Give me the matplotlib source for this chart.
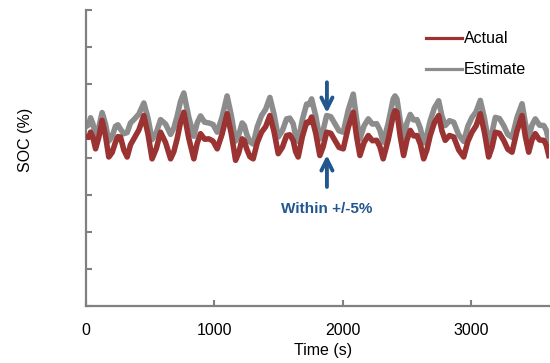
import matplotlib.pyplot as plt

plt.rcParams['font.family'] = ['Liberation Sans', 'DejaVu Sans']

## Data ##
time_s = [10, 23, 37, 56, 76, 101, 127, 153, 179, 205, 231, 250, 270, 296, 322,
          348, 374, 413, 452, 484, 516, 549, 582, 621, 660, 685, 711, 737, 763,
          802, 841, 867, 893, 925, 958, 990, 1023, 1061, 1100, 1133, 1166, 1191,
          1217, 1234, 1252, 1277, 1303, 1335, 1368, 1400, 1433, 1465, 1498, 1530,
          1563, 1588, 1614, 1633, 1653, 1686, 1719, 1738, 1758, 1790, 1822, 1848,
          1875, 1907, 1939, 1971, 2004, 2043, 2082, 2108, 2134, 2166, 2199, 2231,
          2264, 2289, 2315, 2354, 2393, 2407, 2422, 2448, 2474, 2500, 2526, 2552,
          2578, 2604, 2630, 2655, 2681, 2714, 2747, 2772, 2798, 2831, 2864, 2903,
          2942, 2974, 3006, 3038, 3071, 3103, 3136, 3162, 3188, 3220, 3253, 3285,
          3318, 3357, 3396, 3422, 3448, 3473, 3499, 3532, 3565, 3584, 3604]

soc_actual = [45.7, 45.6, 47.0, 45.6, 42.5, 45.6, 50.2, 46.1, 40.3, 41.5, 44.3,
              45.8, 45.7, 42.2, 40.3, 43.6, 45.2, 47.6, 51.5, 46.5, 39.8, 42.6,
              47.0, 44.2, 39.8, 41.7, 45.2, 49.6, 52.4, 45.3, 39.8, 44.0, 46.6,
              45.1, 45.2, 44.6, 42.5, 46.5, 52.0, 46.5, 39.4, 41.5, 45.2, 44.7,
              42.5, 40.4, 39.8, 44.2, 47.0, 48.5, 51.5, 47.2, 41.2, 42.9, 46.1,
              46.3, 44.8, 41.8, 40.3, 45.8, 49.7, 49.6, 51.1, 46.7, 40.7, 43.1,
              47.0, 46.7, 44.8, 42.9, 42.5, 48.3, 52.4, 45.8, 40.7, 44.2, 46.1,
              44.7, 44.8, 43.1, 39.8, 44.9, 51.5, 52.8, 52.4, 45.8, 40.7, 44.9,
              47.5, 46.0, 46.1, 43.8, 39.8, 42.2, 46.1, 49.6, 51.5, 47.4, 44.8,
              46.1, 45.7, 42.2, 40.3, 44.5, 47.0, 48.7, 52.0, 47.0, 40.3, 42.9,
              47.0, 46.7, 44.8, 42.4, 41.6, 47.4, 51.5, 45.8, 41.6, 44.9, 46.6,
              44.9, 44.8, 43.6, 40.7]

soc_estimate = [48.7, 49.0, 50.9, 49.2, 45.9, 48.3, 52.3, 49.3, 44.6, 45.8, 48.6,
                49.0, 47.8, 46.6, 46.9, 49.5, 50.4, 51.9, 54.9, 50.8, 45.0, 46.9,
                50.4, 49.2, 46.4, 48.1, 51.3, 55.3, 57.6, 51.0, 45.9, 49.5, 51.4,
                49.7, 49.5, 49.1, 47.0, 51.1, 56.8, 51.5, 44.6, 46.3, 49.5, 48.8,
                46.5, 44.4, 43.8, 48.5, 51.5, 53.2, 56.4, 51.9, 45.7, 47.4, 50.6,
                50.8, 49.3, 46.1, 44.5, 50.4, 54.6, 54.5, 56.0, 51.4, 45.2, 47.6,
                51.5, 51.2, 49.3, 47.4, 47.0, 53.0, 57.3, 50.5, 45.2, 48.7, 50.6,
                49.2, 49.3, 47.6, 44.3, 49.4, 56.0, 56.8, 56.0, 50.0, 45.6, 49.5,
                51.8, 50.3, 50.4, 48.1, 44.1, 46.3, 50.1, 53.6, 55.5, 51.4, 48.8,
                50.1, 49.7, 46.3, 44.5, 48.6, 51.0, 52.5, 55.6, 50.8, 44.3, 46.9,
                51.0, 50.7, 48.8, 46.4, 45.6, 51.0, 54.7, 49.4, 45.6, 48.9, 50.6,
                48.9, 48.8, 47.6, 44.7]

legend_labels = ["Actual", "Estimate"]
xticks = [0, 1000, 2000, 3000]
yticks = [0, 10, 20, 30, 40, 50, 60, 70, 80]

red = '#9b3333'
grey = '#8c8c8c'
blue = '#22568f'
axis_grey = '#808080'

fig = plt.figure(figsize=(5.5, 3.63), dpi=100)
ax = fig.add_axes([0.156, 0.157, 0.842, 0.815])

ax.plot(time_s, soc_estimate, color=grey, lw=4, label=legend_labels[1], zorder=2)
ax.plot(time_s, soc_actual, color=red, lw=4, label=legend_labels[0], zorder=3)

ax.set_xlim(0, 3605)
ax.set_ylim(0, 80)
ax.set_xticks(xticks)
ax.set_yticks(yticks)
ax.set_yticklabels([])
ax.tick_params(axis='both', direction='in', length=4, width=1.5, color=axis_grey,
               labelsize=11.5, pad=12)

for side in ['top', 'right']:
    ax.spines[side].set_visible(False)
for side in ['left', 'bottom']:
    ax.spines[side].set_color(axis_grey)
    ax.spines[side].set_linewidth(1.6)

ax.set_xlabel("Time (s)", fontsize=11.5)
ax.xaxis.set_label_coords(0.512, -0.125)
ax.set_ylabel("SOC (%)", fontsize=11.5)
ax.yaxis.set_label_coords(-0.115, 0.56)

# legend, actual first, thinner lines than the plot
handles, labels = ax.get_legend_handles_labels()
leg = ax.legend(handles[::-1], labels[::-1], loc='upper right',
                bbox_to_anchor=(0.965, 0.95), borderaxespad=0, frameon=False,
                fontsize=11.5, handlelength=2.3, handletextpad=0.1, labelspacing=1.0)
for line in leg.get_lines():
    line.set_linewidth(2.3)

# arrows showing the error band
arrow_style = dict(arrowstyle='->', lw=2.8, color=blue, mutation_scale=20,
                   shrinkA=0, shrinkB=0)
ax.annotate("", xy=(1877, 52.2), xytext=(1877, 60.5), arrowprops=arrow_style)
ax.annotate("", xy=(1877, 40.8), xytext=(1877, 32.2), arrowprops=arrow_style)
ax.text(1877, 26.2, "Within +/-5%", color=blue, fontsize=11, fontweight='bold',
        ha='center', va='center')

fig.savefig("out.png", dpi=100)
